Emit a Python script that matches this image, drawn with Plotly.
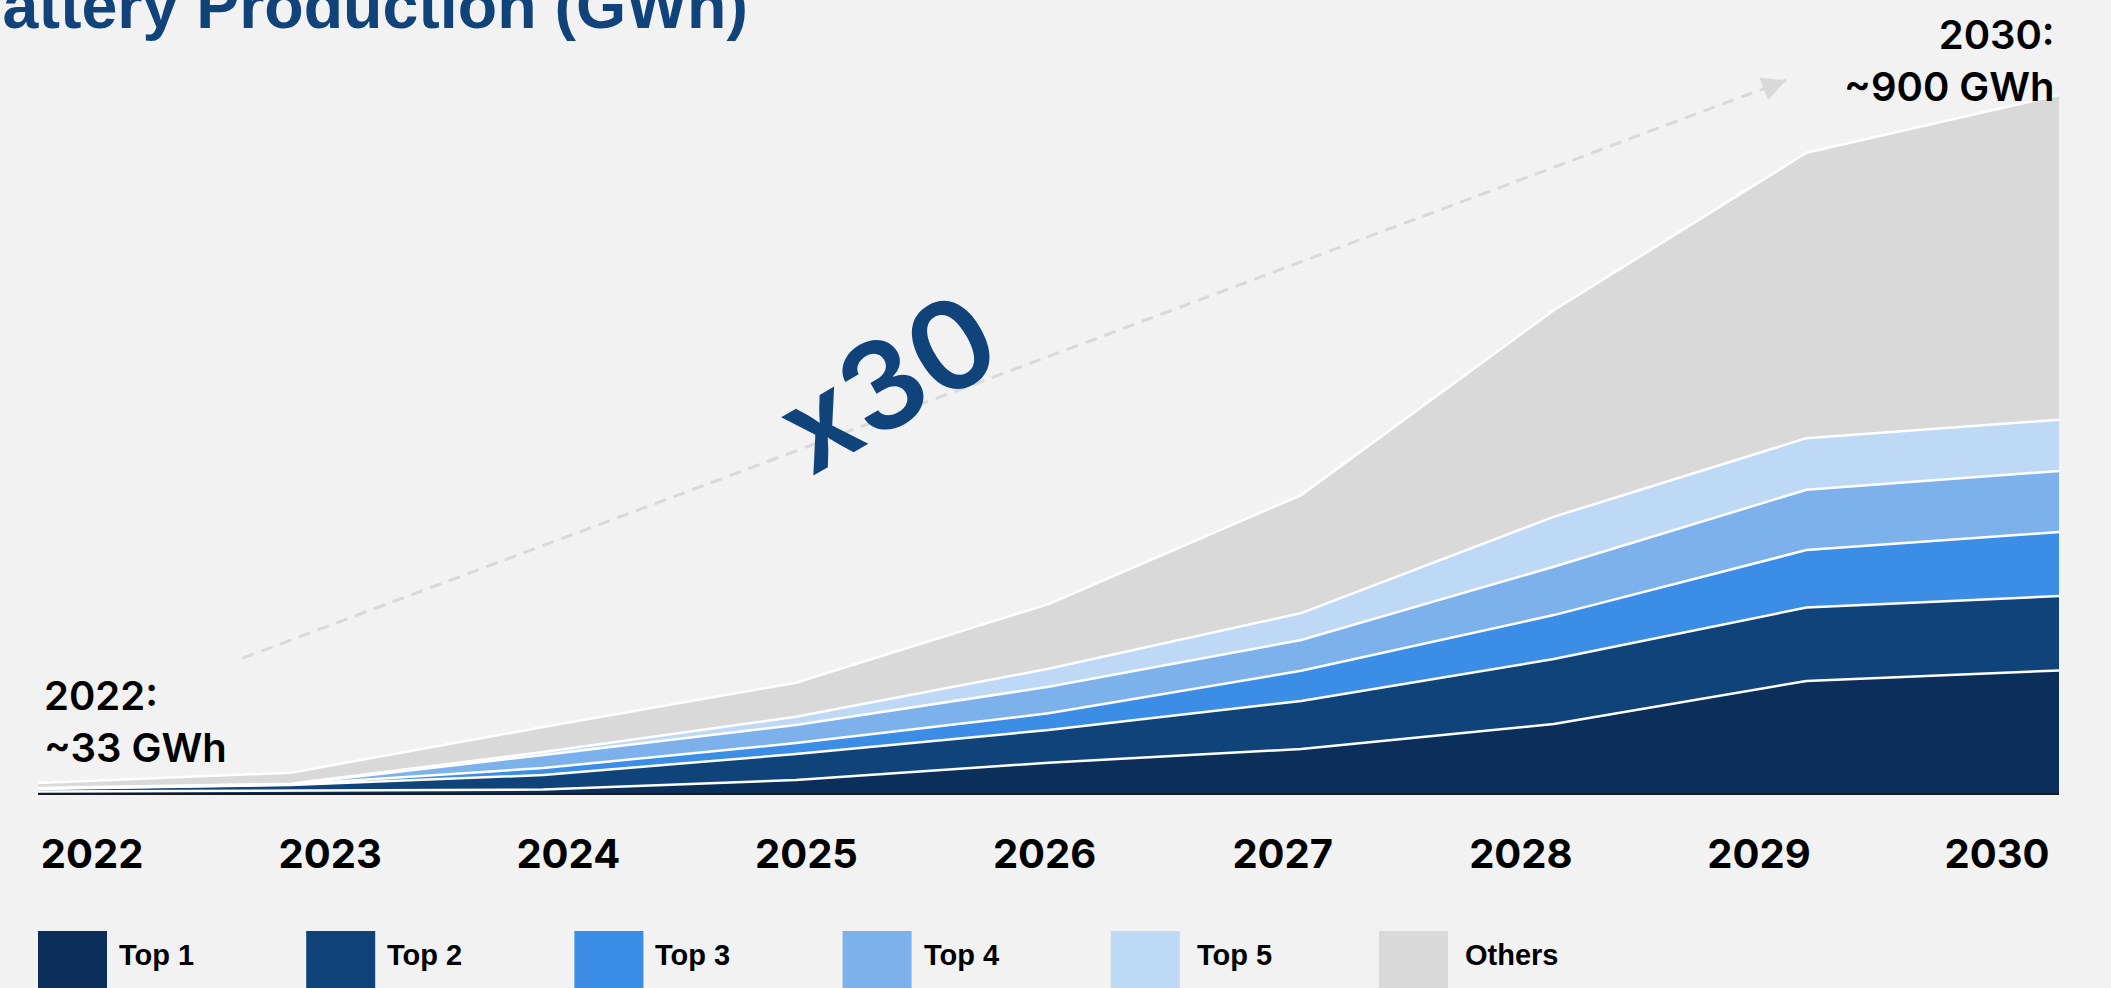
import plotly.graph_objects as go

# ---------------- data ----------------
years = [2022, 2023, 2024, 2025, 2026, 2027, 2028, 2029, 2030]
top1 = [1.9, 3.2, 4.5, 16.8, 39.1, 56.7, 88.9, 144.4, 158.0]
top2 = [3.3, 7.1, 18.7, 33.5, 42.1, 61.9, 83.8, 94.7, 95.9]
top3 = [0.6, 0.5, 9.0, 14.1, 21.5, 39.0, 56.7, 74.1, 82.7]
top4 = [0.3, 0.5, 16.8, 23.2, 34.3, 39.6, 62.3, 77.8, 78.7]
top5 = [0.3, 0.6, 3.8, 10.7, 23.2, 34.8, 64.4, 66.5, 66.1]
others = [6.5, 14.3, 32.3, 43.9, 83.4, 152.1, 266.4, 368.0, 418.6]

series_names = ["Top 1", "Top 2", "Top 3", "Top 4", "Top 5", "Others"]
series_values = [top1, top2, top3, top4, top5, others]
series_colors = ["#0B2F5A", "#10437A", "#3B8DE5", "#7DB1EC", "#BED9F5", "#D9D9D9"]
year_labels = [str(y) for y in years]

title_text = "Battery Production (GWh)"
start_note = "2022:<br>~33 GWh"
end_note = "2030:<br>~900 GWh"
growth_text = "x30"

# ---------------- figure ----------------
W, H = 2111, 988
ML, MR, MT, MB = 38, 52, 95, 195
PW, PH = W - ML - MR, H - MT - MB
YMAX = 900

BG = "#F2F2F2"
NAVY = "#10437A"

fig = go.Figure()
for name, vals, col in zip(series_names, series_values, series_colors):
    fig.add_trace(go.Scatter(
        x=years, y=vals, name=name, mode="lines", stackgroup="one",
        line=dict(color="white", width=2.5), fillcolor=col,
        showlegend=False, hoverinfo="x+y+name"))

# invisible trace carrying the year-label axis
fig.add_trace(go.Scatter(x=years, y=[0] * len(years), xaxis="x2", mode="markers",
                         marker=dict(opacity=0), hoverinfo="skip", showlegend=False))


def to_paper_x(x):
    return (x - years[0]) / (years[-1] - years[0])


def to_paper_y(y):
    return y / YMAX


def px_to_paper(px, py):
    return (px - ML) / PW, (H - MB - py) / PH


annotations = []
shapes = []

# title (partially cut off, as in the reference)
annotations.append(dict(text=f"<b>{title_text}</b>", xref="paper", yref="paper",
                        x=0, y=1, xanchor="left", yanchor="middle",
                        xshift=-84, yshift=89, showarrow=False,
                        font=dict(family="Liberation Sans", size=64.5, color=NAVY)))

# start / end notes
annotations.append(dict(text=start_note, xref="paper", yref="paper", x=0, y=0,
                        xanchor="left", yanchor="middle", align="left",
                        xshift=4, yshift=72, showarrow=False,
                        font=dict(family="Inter", size=40, color="#000000", weight=600)))
annotations.append(dict(text=end_note, xref="paper", yref="paper", x=1, y=1,
                        xanchor="right", yanchor="middle", align="right",
                        xshift=-2, yshift=35, showarrow=False,
                        font=dict(family="Inter", size=40, color="#000000", weight=600)))

# dashed growth arrow (data units -> paper)
arrow_start = (2022.81, 174)
arrow_end = (2028.92, 919)
sx, sy = to_paper_x(arrow_start[0]), to_paper_y(arrow_start[1])
ex, ey = to_paper_x(arrow_end[0]), to_paper_y(arrow_end[1])
shapes.append(dict(type="line", xref="paper", yref="paper", x0=sx, y0=sy, x1=ex, y1=ey,
                   line=dict(color="#D9D9D9", width=3, dash="12px,8px"), layer="above"))
annotations.append(dict(text="", xref="paper", yref="paper", x=ex, y=ey,
                        ax=-26, ay=10, axref="pixel", ayref="pixel",
                        showarrow=True, arrowhead=2, arrowsize=1.6, arrowwidth=3,
                        arrowcolor="#D9D9D9"))

# x30 label
annotations.append(dict(text=growth_text, xref="x", yref="y", x=2025.36, y=531,
                        xanchor="center", yanchor="middle", textangle=-30,
                        showarrow=False,
                        font=dict(family="Inter", size=122, color=NAVY, weight=600)))

# custom legend (big swatches at the bottom)
for i, (name, col) in enumerate(zip(series_names, series_colors)):
    x0 = 38 + 268.2 * i
    px0, py0 = px_to_paper(x0, 931)
    px1, py1 = px_to_paper(x0 + 69, 1000)
    shapes.append(dict(type="rect", xref="paper", yref="paper", x0=px0, x1=px1,
                       y0=py0, y1=py1, fillcolor=col, line=dict(width=0)))
    tx, ty = px_to_paper(x0 + (79 if i < 4 else 84), 955)
    annotations.append(dict(text=f"<b>{name}</b>", xref="paper", yref="paper",
                            x=tx, y=ty, xanchor="left", yanchor="middle",
                            showarrow=False,
                            font=dict(family="Liberation Sans", size=29, color="#000000")))

fig.update_layout(
    width=W, height=H,
    margin=dict(l=ML, r=MR, t=MT, b=MB, pad=0),
    paper_bgcolor=BG, plot_bgcolor=BG,
    showlegend=False,
    xaxis=dict(range=[years[0], years[-1]], showticklabels=False, ticks="",
               showgrid=False, zeroline=False, showline=True,
               linecolor="#1A1A1A", linewidth=2, fixedrange=True),
    xaxis2=dict(overlaying="x", anchor="y", side="bottom",
                range=[years[0] - 0.227, years[-1] + 0.26],
                tickmode="array", tickvals=years, ticktext=year_labels,
                tickfont=dict(family="Inter", size=40, color="#000000", weight=700),
                ticks="", showgrid=False, zeroline=False, showline=False,
                ticklabelstandoff=34, fixedrange=True),
    yaxis=dict(range=[0, YMAX], visible=False, fixedrange=True),
    annotations=annotations,
    shapes=shapes,
)

fig.write_html("out.html", config={"displayModeBar": False},
               post_script="document.body.style.margin='0';")
